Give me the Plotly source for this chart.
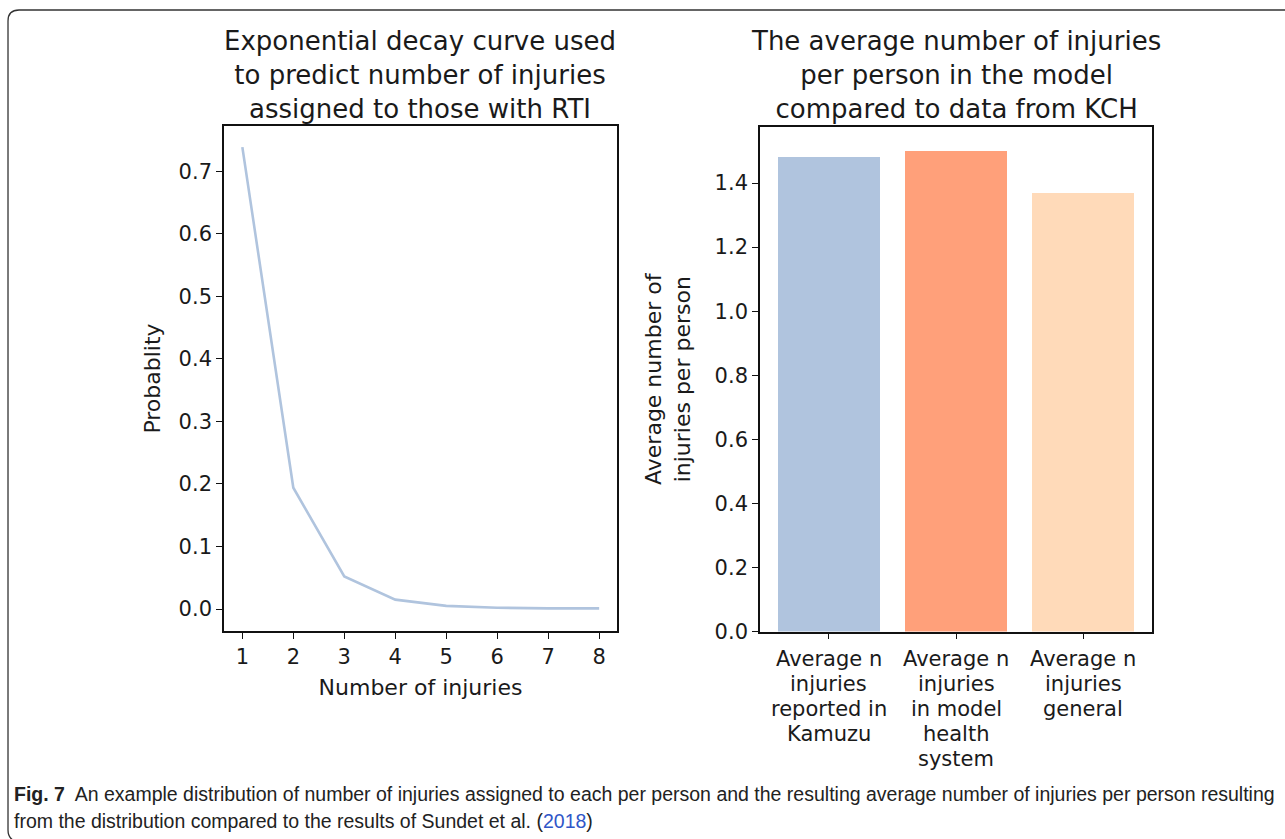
import plotly.graph_objects as go

W, H = 1285, 839

# ---- data ----
n_injuries = [1, 2, 3, 4, 5, 6, 7, 8]
probability = [0.739, 0.194, 0.052, 0.015, 0.005, 0.002, 0.001, 0.001]

bar_categories = [0, 1, 2]
bar_label_lines = [
    ["Average n", "injuries", "reported in", "Kamuzu"],
    ["Average n", "injuries", "in model", "health", "system"],
    ["Average n", "injuries", "general"],
]
bar_values = [1.48, 1.50, 1.37]
bar_colors = ["#B0C4DE", "#FFA07A", "#FFDAB9"]

left_ticks = [0.0, 0.1, 0.2, 0.3, 0.4, 0.5, 0.6, 0.7]
right_ticks = [0.0, 0.2, 0.4, 0.6, 0.8, 1.0, 1.2, 1.4]

FONT = "DejaVu Sans"
TXT = "#1a1a1a"


def px_x(p):
    return p / W


def px_y(p):
    return 1 - p / H


fig = go.Figure()

fig.add_trace(go.Scatter(
    x=n_injuries, y=probability, mode="lines",
    line=dict(color="#B0C4DE", width=2.6),
    xaxis="x", yaxis="y", showlegend=False,
))

fig.add_trace(go.Bar(
    x=bar_categories, y=bar_values, width=0.8,
    marker=dict(color=bar_colors, line=dict(width=0)),
    xaxis="x2", yaxis="y2", showlegend=False,
))

axis_common = dict(
    showline=True, linecolor="#111", linewidth=1.6, mirror=True,
    ticks="outside", ticklen=6, tickwidth=1.4, tickcolor="#111",
    showgrid=False, zeroline=False,
    tickfont=dict(family=FONT, size=21, color=TXT),
    automargin=False,
)

fig.update_layout(
    width=W, height=H,
    margin=dict(l=0, r=0, t=0, b=0),
    paper_bgcolor="white", plot_bgcolor="white",
    bargap=0,
    xaxis=dict(
        domain=[px_x(224), px_x(617)], anchor="y",
        range=[0.64, 8.35], tickvals=n_injuries,
        title=dict(text="Number of injuries", font=dict(family=FONT, size=22, color=TXT), standoff=12),
        **axis_common,
    ),
    yaxis=dict(
        domain=[px_y(631), px_y(126)], anchor="x",
        range=[-0.0352, 0.7727], tickvals=left_ticks, tickformat=".1f",
        title=dict(text="Probablity", font=dict(family=FONT, size=22, color=TXT), standoff=12),
        **axis_common,
    ),
    xaxis2=dict(
        domain=[px_x(760), px_x(1152)], anchor="y2",
        range=[-0.54, 2.54], tickvals=bar_categories, showticklabels=False,
        **axis_common,
    ),
    yaxis2=dict(
        domain=[px_y(631.5), px_y(127)], anchor="x2",
        range=[0, 1.5 * 1.05], tickvals=right_ticks, tickformat=".1f",
        title=dict(text="Average number of<br>injuries per person", font=dict(family=FONT, size=22, color=TXT), standoff=18),
        **axis_common,
    ),
)

annotations = []
# subplot titles
annotations.append(dict(
    text="Exponential decay curve used<br>to predict number of injuries<br>assigned to those with RTI",
    x=px_x(420), y=px_y(75), xref="paper", yref="paper",
    xanchor="center", yanchor="middle", showarrow=False, align="center",
    font=dict(family=FONT, size=26, color=TXT),
))
annotations.append(dict(
    text="The average number of injuries<br>per person in the model<br>compared to data from KCH",
    x=px_x(956), y=px_y(75), xref="paper", yref="paper",
    xanchor="center", yanchor="middle", showarrow=False, align="center",
    font=dict(family=FONT, size=26, color=TXT),
))
# category labels of the bar chart (one text per line, tight matplotlib-like spacing)
for cat, lines in zip(bar_categories, bar_label_lines):
    for j, line in enumerate(lines):
        annotations.append(dict(
            text=line, x=cat, xref="x2", y=px_y(659 + 25 * j), yref="paper",
            xanchor="center", yanchor="middle", showarrow=False,
            font=dict(family=FONT, size=21, color=TXT),
        ))
# caption
CAP_FONT = "Liberation Sans Narrow, Liberation Sans, sans-serif"
annotations.append(dict(
    text="<b>Fig. 7</b>  An example distribution of number of injuries assigned to each per person and the resulting average number of injuries per person resulting",
    x=px_x(12), y=px_y(794), xref="paper", yref="paper",
    xanchor="left", yanchor="middle", showarrow=False, align="left",
    font=dict(family=CAP_FONT, size=19.5, color="#222"),
))
annotations.append(dict(
    text="from the distribution compared to the results of Sundet et al. (<span style='color:#2f56c8'>2018</span>)",
    x=px_x(12), y=px_y(821), xref="paper", yref="paper",
    xanchor="left", yanchor="middle", showarrow=False, align="left",
    font=dict(family=CAP_FONT, size=19.5, color="#222"),
))
fig.update_layout(annotations=annotations)

# outer rounded frame
def P(x, y):
    return f"{px_x(x):.5f},{px_y(y):.5f}"

path = (f"M {P(1292, 10)} L {P(19, 10)} Q {P(8, 10)} {P(8, 21)} "
        f"L {P(8, 830)} Q {P(8, 840)} {P(18, 842)}")
fig.add_shape(type="path", path=path, xref="paper", yref="paper",
              line=dict(color="#333", width=1.3))

fig.write_html("out.html")
